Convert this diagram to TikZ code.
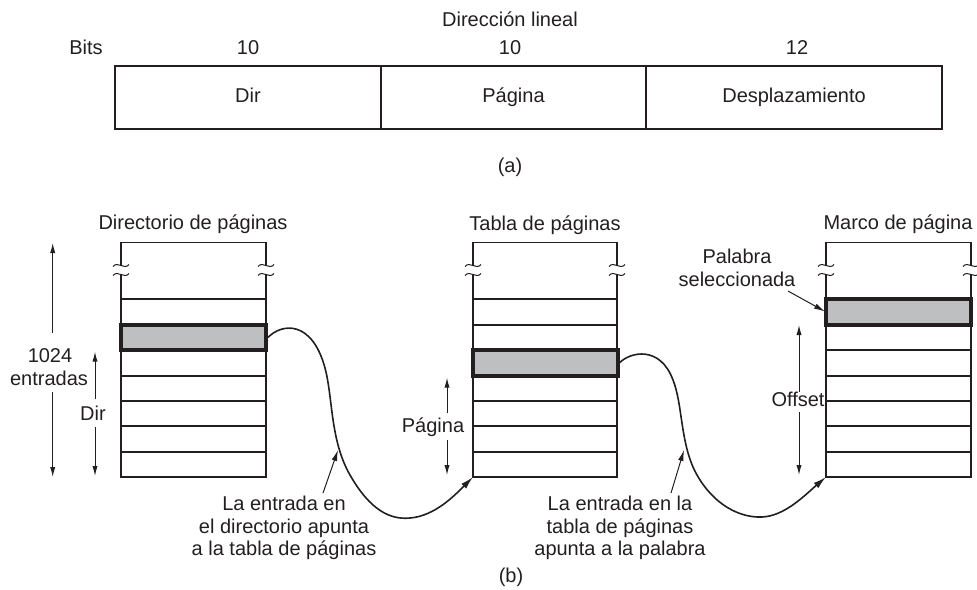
\documentclass[tikz,border=0pt]{standalone}
\usepackage{fontspec}
\setmainfont{Liberation Sans}
\usetikzlibrary{arrows.meta}
\definecolor{hlgray}{RGB}{190,191,193}
\definecolor{ink}{RGB}{35,31,32}
\begin{document}
\begin{tikzpicture}[x=0.5pt,y=-0.5pt,
  lbl/.style={inner sep=0pt, text=ink, font=\fontsize{10}{11.3}\selectfont},
  txt/.style={lbl, text height=7.2pt, text depth=2pt},
  field/.style={draw=ink, line width=1pt, inner sep=0pt, minimum height=31.5pt, text=ink,
    font=\fontsize{10}{11.3}\selectfont, text height=7.2pt, text depth=2pt},
  outline/.style={draw=ink, line width=0.75pt},
  rowline/.style={draw=ink, line width=1pt},
  brk/.style={draw=ink, line width=0.5pt},
  hl/.style={draw=ink, fill=hlgray, line width=2pt, inner sep=0pt, minimum width=72.5pt, minimum height=12.7pt},
  dim/.style={draw=ink, line width=0.5pt, -{Latex[length=5pt,width=2.6pt]}},
  conn/.style={draw=ink, line width=0.8pt, -{Latex[length=6.5pt,width=3.4pt]}},
  ptr/.style={draw=ink, line width=0.5pt, -{Latex[length=5.5pt,width=2.8pt]}}]
\useasboundingbox (0,0) rectangle (977,589);

% ---------- (a) linear address ----------
\node[txt] (title) at (510,21) {Dirección lineal};
\node[txt] (bits) at (86,49) {Bits};
\node[txt] (b1) at (248,49) {10};
\node[txt] (b2) at (510,49) {10};
\node[txt] (b3) at (797,49) {12};
\node[field, minimum width=133pt] (fdir) at (248,97.2) {Dir};
\node[field, minimum width=132.5pt] (fpag) at (513.5,97.2) {Página};
\node[field, minimum width=148pt] (fdes) at (794,97.2) {Desplazamiento};
\node[txt] (capa) at (510,167) {(a)};

% ---------- (b) tables ----------
\node[txt] (tdir) at (193,224) {Directorio de páginas};
\node[txt] (tpag) at (545,225) {Tabla de páginas};
\node[txt] (tmar) at (898,224) {Marco de página};

\foreach \L/\R/\h/\n in {121/266/1/dir, 473/617/2/pag, 826/971/0/mar}{
  \draw[outline] (\L,265.5) -- (\L,242.5) -- (\R,242.5) -- (\R,265.5);
  \draw[outline] (\L,274.5) -- (\L,477) -- (\R,477) -- (\R,274.5);
  \foreach \k in {0,...,6}{
    \draw[rowline] (\L,{299.3+25.4*\k}) -- (\R,{299.3+25.4*\k});
  }
  \foreach \x in {\L,\R}{
    \draw[brk] (\x-8,266.5) .. controls (\x-3,260.5) and (\x+3,270.5) .. (\x+8,264.5);
    \draw[brk] (\x-8,275.5) .. controls (\x-3,269.5) and (\x+3,279.5) .. (\x+8,273.5);
  }
  \node[hl] (\n hl) at ({(\L+\R)/2},{299.3+25.4*\h+12.7}) {};
  \coordinate (\n sw) at (\L,477);
}

% ---------- dimension arrows ----------
\node[txt] (t1024) at (50,357) {1024};
\node[txt] (tentr) at (49,380) {entradas};
\coordinate (k1a) at (52.7,333); \coordinate (k1b) at (52.7,243);
\coordinate (k2a) at (52.7,392); \coordinate (k2b) at (52.7,477);
\draw[dim] (k1a) -- (k1b);
\draw[dim] (k2a) -- (k2b);

\node[txt] (tdirl) at (93,415) {Dir};
\coordinate (d1a) at (95,399); \coordinate (d1b) at (95,351.7);
\coordinate (d2a) at (95,427); \coordinate (d2b) at (95,476);
\draw[dim] (d1a) -- (d1b);
\draw[dim] (d2a) -- (d2b);

\node[txt] (tpagl) at (433,427) {Página};
\coordinate (p1a) at (447,413); \coordinate (p1b) at (447,377.7);
\coordinate (p2a) at (447,440); \coordinate (p2b) at (447,475);
\draw[dim] (p1a) -- (p1b);
\draw[dim] (p2a) -- (p2b);

\node[txt] (toff) at (798,401) {Offset};
\coordinate (o1a) at (799,392); \coordinate (o1b) at (799,325);
\coordinate (o2a) at (799,412); \coordinate (o2b) at (799,475);
\draw[dim] (o1a) -- (o1b);
\draw[dim] (o2a) -- (o2b);

% ---------- connectors ----------
\draw[conn] (dirhl.east) .. controls (282,323) and (312,320) .. (325,368)
  .. controls (333,398) and (330,440) .. (350,475)
  .. controls (370,510) and (390,520) .. (410,518)
  .. controls (435,516) and (455,495) .. (pagsw);
\draw[conn] (paghl.east) .. controls (630,352) and (660,345) .. (673,380)
  .. controls (683,405) and (680,445) .. (697,475)
  .. controls (714,505) and (740,518) .. (762,517)
  .. controls (785,516) and (805,495) .. (marsw);

% ---------- labels with pointers ----------
\node[lbl, align=center] (lab1) at (284,528) {La entrada en\\el directorio apunta\\a la tabla de páginas};
\coordinate (q1a) at (323,493); \coordinate (q1b) at (338,450);
\draw[ptr] (q1a) -- (q1b);
\node[lbl, align=center] (lab2) at (620,528) {La entrada en la\\tabla de páginas\\apunta a la palabra};
\coordinate (q2a) at (671,493); \coordinate (q2b) at (684,450);
\draw[ptr] (q2a) -- (q2b);
\node[lbl, align=center] (lab3) at (737,268) {Palabra\\seleccionada};
\coordinate (q3a) at (788,291); \coordinate (q3b) at (825,311.5);
\draw[ptr] (q3a) -- (q3b);

\node[txt] (capb) at (511,577) {(b)};
\end{tikzpicture}
\end{document}
